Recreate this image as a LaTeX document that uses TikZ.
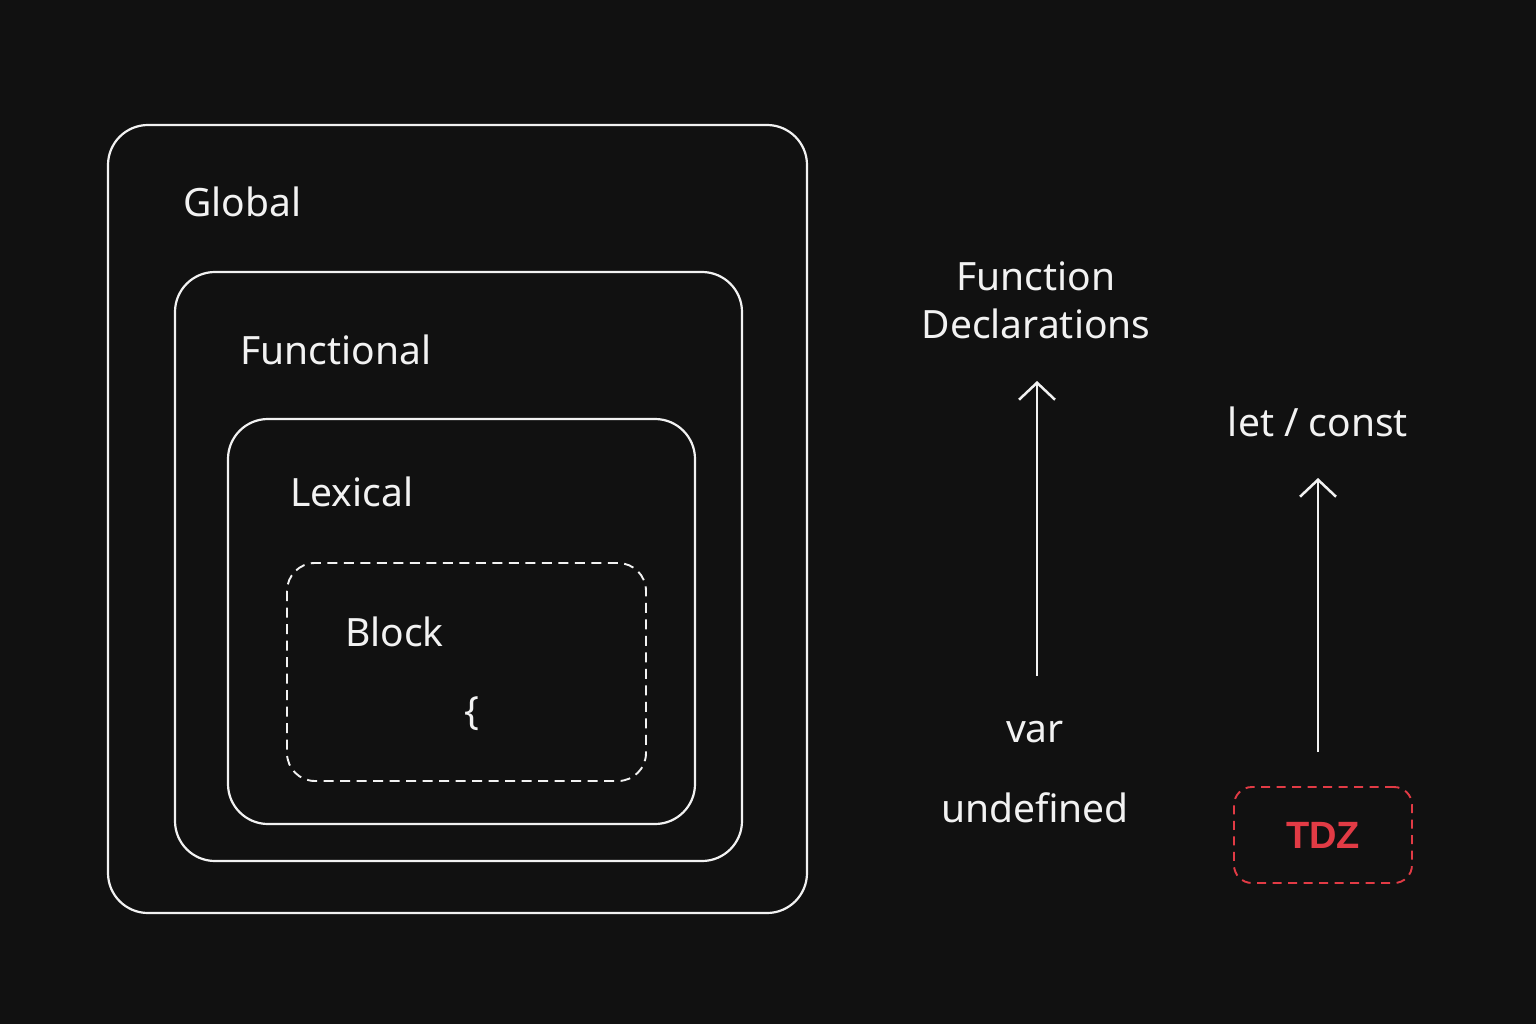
\documentclass[tikz,border=0pt]{standalone}
\usepackage{fontspec}
\setmainfont{Noto Sans}
\newfontfamily\tdzfont{Liberation Sans}
\usetikzlibrary{arrows.meta}
\definecolor{bg}{HTML}{111111}
\definecolor{fg}{HTML}{F2F2F2}
\definecolor{tdzred}{HTML}{E23B45}
\begin{document}
\begin{tikzpicture}[x=1pt,y=-1pt,
  scopebox/.style={draw=fg,line width=2.2pt,rounded corners=40pt},
  dashbox/.style={draw=fg,line width=1.9pt,rounded corners=28pt,dash pattern=on 10pt off 6.5pt},
  lbl/.style={text=fg,font=\fontsize{39}{48}\selectfont,inner sep=0pt},
  uparrow/.style={draw=fg,line width=2.5pt,-{Straight Barb[length=17pt,width=36pt,line width=2.5pt]}}]
\fill[bg] (0,0) rectangle (1536,1024);
\useasboundingbox (0,0) rectangle (1536,1024);
% nested scopes
\draw[scopebox] (108,125) rectangle (807,913);
\draw[scopebox] (175,272) rectangle (742,861);
\draw[scopebox] (228,419) rectangle (695,824);
\draw[dashbox] (287,563) rectangle (646,781);
\node[lbl,anchor=west] (global) at (183,202) {Global};
\node[lbl,anchor=west] (functional) at (240,350) {Functional};
\node[lbl,anchor=west] (lexical) at (290,492) {Lexical};
\node[lbl,anchor=west] (block) at (345,632) {Block};
\node[lbl] (brace) at (472,714) {\{};
% var column
\node[lbl,align=center] (decl) at (1036,300) {Function\\Declarations};
\node[lbl] (var) at (1035,732) {var};
\node[lbl] (undef) at (1035,808) {undefined};
\coordinate (a1s) at (1037,676);
\coordinate (a1e) at (1037,381);
\draw[uparrow] (a1s) -- (a1e);
% let/const column
\node[lbl] (let) at (1318,422) {let / const};
\node[draw=tdzred,line width=1.9pt,rounded corners=18pt,dash pattern=on 9pt off 6.5pt,
      minimum width=178pt,minimum height=96pt,text=tdzred,
      font=\tdzfont\fontsize{38}{46}\selectfont\bfseries] (tdz) at (1323,835) {TDZ};
\coordinate (a2s) at (1318,752);
\coordinate (a2e) at (1318,478);
\draw[uparrow] (a2s) -- (a2e);
\end{tikzpicture}
\end{document}
